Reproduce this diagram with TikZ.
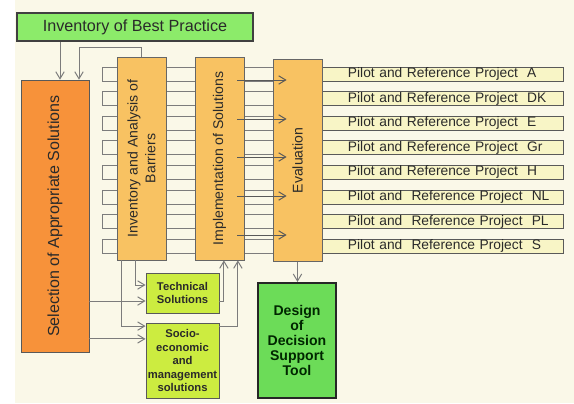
\documentclass[tikz,border=0pt]{standalone}
\usepackage{fontspec}
\setmainfont{Liberation Sans}
\usepackage{xcolor}
\usetikzlibrary{arrows.meta}

\definecolor{cream}{HTML}{FAF8E8}
\definecolor{bestgreen}{HTML}{8CEB6A}
\definecolor{selorange}{HTML}{F7923A}
\definecolor{phaseorange}{HTML}{F8C262}
\definecolor{limegreen}{HTML}{CCEC40}
\definecolor{toolgreen}{HTML}{6CDC58}
\definecolor{pilotyellow}{HTML}{F8F5C6}
\definecolor{linegray}{HTML}{7C7C7C}
\definecolor{ink}{HTML}{2A2A2A}

\begin{document}
\begin{tikzpicture}[x=0.025cm,y=-0.025cm,
    phase/.style={draw=gray!80!black,fill=phaseorange,line width=0.5pt,
      minimum width=1.225cm,minimum height=5.075cm,inner sep=0pt},
    rottext/.style={rotate=90,align=center,text=ink,
      font=\fontsize{10}{12.5}\selectfont},
    sol/.style={draw=gray!70!black,fill=limegreen,line width=0.6pt,
      minimum width=1.825cm,inner sep=0pt,align=center,text=ink,
      font=\fontsize{8}{9.6}\selectfont\bfseries},
    pilot/.style={draw=black!65,fill=pilotyellow,line width=0.6pt,
      minimum height=0.35cm,inner sep=0pt,text width=6.025cm,align=left,
      text=ink,font=\fontsize{9.8}{10}\selectfont,
      execute at begin node=\hspace*{0.65cm}},
    band/.style={draw=linegray,line width=0.5pt},
    arr/.style={draw=linegray,line width=0.7pt,
      -{Straight Barb[length=5pt,width=6pt]}}]
    \useasboundingbox (0,0) rectangle (574,403);
    \fill[white] (0,0) rectangle (574,403);
    \fill[cream] (15,0) rectangle (574,403);

    % pilot rows
    \foreach \txt [count=\i from 0] in {Pilot and Reference Project~ A,
        Pilot and Reference Project~ DK,Pilot and Reference Project~ E,
        Pilot and Reference Project~ Gr,Pilot and Reference Project~ H,
        Pilot and~ Reference Project~ NL,Pilot and~ Reference Project~ PL,
        Pilot and~ Reference Project~ S}{
      \draw[band] (102,{67+24.6*\i}) rectangle (563,{81+24.6*\i});
      \node[pilot] (p\i) at (442.5,{74+24.6*\i}) {\txt};
    }

    \node[draw=black!75,line width=1.2pt,fill=bestgreen,text=ink,
      minimum width=5.9cm,minimum height=0.7cm,
      font=\fontsize{11.5}{13}\selectfont] (best) at (135,27)
      {Inventory of Best Practice};
    \node[draw=gray!70!black,fill=selorange,minimum width=1.7cm,
      minimum height=6.8cm,inner sep=0pt,
      label={[rottext,font=\fontsize{11.4}{13}\selectfont]center:Selection of Appropriate Solutions}]
      (sel) at (55,216) {};
    \node[phase,label={[rottext]center:Inventory and Analysis of\\Barriers}]
      (bar) at (141.5,158.5) {};
    \node[phase,label={[rottext]center:Implementation of Solutions}]
      (impl) at (219.5,158.5) {};
    \node[phase,minimum height=5.05cm,label={[rottext]center:Evaluation}]
      (eval) at (297.5,160.5) {};

    \node[sol,minimum height=1cm] (tech) at (182.5,293) {Technical\\Solutions};
    \node[sol,minimum height=1.875cm] (socio) at (182.5,360.5)
      {Socio-\\economic\\and\\management\\solutions};
    \node[draw=black!85,line width=1.5pt,fill=toolgreen,minimum width=1.95cm,
      minimum height=2.875cm,align=center,text=black!85!green,
      font=\fontsize{10}{10.7}\selectfont\bfseries] (tool) at (297,340.5)
      {Design\\of\\Decision\\Support\\Tool};

    % connectors
    \coordinate (s1) at ([xshift=0.125cm]sel.north);
    \coordinate (s2) at ([xshift=0.6cm]sel.north);
    \draw[arr] (best.south -| s1) -- (s1);
    \draw[arr] (bar.north) -- ++(0,-9) -| (s2);

    \coordinate (t1) at ([yshift=0.2cm]tech.west);
    \coordinate (t2) at ([yshift=-0.2cm]tech.west);
    \coordinate (u1) at ([yshift=0.86cm]socio.west);
    \coordinate (u2) at ([yshift=0.54cm]socio.west);
    \draw[arr] ([xshift=-0.16cm]bar.south) |- (t1);
    \draw[arr] ([xshift=-0.49cm]bar.south) |- (u1);
    \draw[arr] (sel.east |- t2) -- (t2);
    \draw[arr] (sel.east |- u2) -- (u2);
    \draw[arr] (tech.east |- t2) -| ([xshift=0.11cm]impl.south);
    \draw[arr] (socio.east |- u1) -| ([xshift=0.46cm]impl.south);
    \draw[arr] (eval.south) -- (eval.south |- tool.north);

    \foreach \y [count=\i] in {80,119,157,196,235}{
      \coordinate (m\i) at (237,\y);
      \draw[arr,draw=black!65] (m\i) -- ([xshift=0.35cm]m\i -| eval.west);
    }
\end{tikzpicture}
\end{document}
